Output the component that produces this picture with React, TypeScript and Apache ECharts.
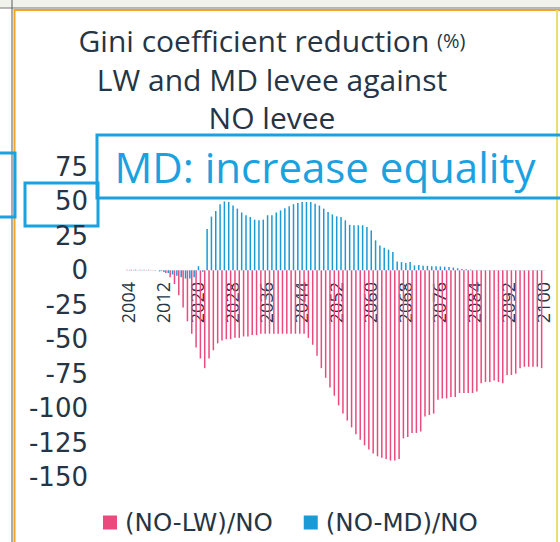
import React, { useEffect, useRef } from "react";
import * as echarts from "echarts";

const years: string[] = Array.from({ length: 97 }, (_, i) => String(2004 + i));

// (NO-LW)/NO, 2004..2100
const lwReduction: number[] = [
  0.5, 0.5, 0.5, 0.5, 0.4, 0.4, 0.3, 0, -0.5, -2,
  -5, -10, -18, -27, -37, -46, -56, -64, -71, -64,
  -58, -53, -51, -50, -50, -49, -49, -48, -48, -47,
  -47, -46, -46, -46, -46, -46, -46, -46, -46, -46,
  -46, -46, -49, -54, -62, -71, -78, -85, -91, -98,
  -104, -109, -114, -119, -123, -127, -130, -133, -135, -136,
  -137, -138, -138, -137, -122, -121, -118, -118, -117, -106,
  -105, -104, -94, -93, -93, -92, -92, -89, -89, -89,
  -89, -88, -82, -81, -81, -80, -81, -82, -76, -76,
  -75, -71, -70, -70, -70, -70, -71,
];

// (NO-MD)/NO, 2004..2100
const mdReduction: number[] = [
  0.3, 0.3, 0.3, 0.3, 0.3, 0.2, -0.3, -0.8, -1.2, -2,
  -3, -4, -5, -6, -6, -5, 3, -1, 30, 39,
  43, 48, 50, 49.6, 47, 44.8, 42, 40, 38.7, 36.8,
  36.3, 36.8, 40, 40, 42, 43.5, 45, 46.5, 48, 48.8,
  49.6, 49.6, 49.6, 48.4, 47, 44.8, 42.3, 40.6, 39.2, 38.7,
  36.3, 33, 32.7, 32.7, 32.7, 31.4, 29, 21.8, 18, 16.4,
  15, 13.3, 6.5, 6, 5.3, 6, 3.6, 3.8, 3.4, 3.2,
  3, 3, 2.8, 2.6, 2.4, 2, 1.5, 1, 0.7, 0.5,
  0.3, 0.2, 0.2, 0.2, 0.2, 0.2, 0.2, 0.2, 0.2, 0.2,
  0.2, 0.2, 0.2, 0.2, 0.2, 0.2, 0.2,
];

const seriesNames = ["(NO-LW)/NO", "(NO-MD)/NO"];
const titleLines = ["Gini coefficient reduction ", "(%)", "LW and MD levee against", "NO levee"];
const annotation = "MD: increase equality";

const FONT = "'Open Sans', sans-serif";
const WIDE = "'DejaVu Sans', sans-serif";
const DARK = "#263545";
const BLUE = "#1aa2e0";

export default function App() {
  const ref = useRef<HTMLDivElement>(null);
  useEffect(() => {
    if (!ref.current) return;
    const chart = echarts.init(ref.current, null, { renderer: "svg" });
    chart.setOption({
      animation: false,
      backgroundColor: "#ffffff",
      grid: { left: 126, right: 15, top: 167, height: 310 },
      legend: {
        left: 98,
        top: 505,
        itemWidth: 14,
        itemHeight: 14,
        itemGap: 31,
        icon: "rect",
        textStyle: { fontSize: 24.5, color: DARK, fontFamily: WIDE, padding: [0, 0, 0, 3] },
        data: seriesNames,
      },
      xAxis: {
        type: "category",
        data: years,
        axisLine: { show: false, onZero: false },
        axisTick: { show: false },
        axisLabel: {
          interval: 7,
          rotate: 90,
          fontSize: 18,
          color: DARK,
          fontFamily: FONT,
          margin: -195,
        },
      },
      yAxis: {
        type: "value",
        min: -150,
        max: 75,
        interval: 25,
        splitLine: { show: false },
        axisLine: { show: false },
        axisTick: { show: false },
        axisLabel: { fontSize: 26, color: DARK, fontFamily: WIDE, margin: 38, padding: [6, 0, 0, 0] },
      },
      series: [
        {
          type: "bar",
          name: seriesNames[0],
          data: lwReduction,
          barWidth: 1.5,
          barGap: "60%",
          itemStyle: { color: "#ea4a7e" },
        },
        {
          type: "bar",
          name: seriesNames[1],
          data: mdReduction,
          barWidth: 1.5,
          itemStyle: { color: "#1b9ad6" },
        },
      ],
      graphic: [
        { type: "rect", shape: { x: 0, y: 0, width: 560, height: 8 }, style: { fill: "#f2f2ec" }, silent: true },
        { type: "line", shape: { x1: 0, y1: 8, x2: 560, y2: 8 }, style: { stroke: "#777", lineWidth: 1 }, silent: true },
        { type: "line", shape: { x1: 14, y1: 10, x2: 560, y2: 10 }, style: { stroke: "#f0a526", lineWidth: 2 }, silent: true },
        { type: "line", shape: { x1: 12, y1: 0, x2: 12, y2: 542 }, style: { stroke: "#5a5a5a", lineWidth: 1 }, silent: true },
        { type: "line", shape: { x1: 14.5, y1: 9, x2: 14.5, y2: 542 }, style: { stroke: "#f0a526", lineWidth: 2 }, silent: true },
        { type: "line", shape: { x1: 557, y1: 10, x2: 557, y2: 542 }, style: { stroke: "#e7e070", lineWidth: 2 }, silent: true },
        {
          type: "text",
          x: 272,
          y: 40,
          style: {
            text: `{a|${titleLines[0]}}{b|${titleLines[1]}}`,
            align: "center",
            verticalAlign: "middle",
            rich: {
              a: { fontSize: 30, fontFamily: FONT, fill: DARK, color: DARK },
              b: { fontSize: 20, fontFamily: FONT, fill: DARK, color: DARK },
            },
          },
        },
        {
          type: "text",
          x: 272,
          y: 79,
          style: { text: titleLines[2], fontSize: 30, fontFamily: FONT, fill: DARK, align: "center", verticalAlign: "middle" },
        },
        {
          type: "text",
          x: 272,
          y: 117,
          style: { text: titleLines[3], fontSize: 30, fontFamily: FONT, fill: DARK, align: "center", verticalAlign: "middle" },
        },
        { type: "rect", shape: { x: 97, y: 135, width: 480, height: 63 }, style: { fill: "none", stroke: BLUE, lineWidth: 3 } },
        { type: "rect", shape: { x: 25, y: 183, width: 73, height: 43 }, style: { fill: "none", stroke: BLUE, lineWidth: 3 } },
        { type: "rect", shape: { x: -10, y: 153, width: 25, height: 64 }, style: { fill: "none", stroke: BLUE, lineWidth: 3 } },
        {
          type: "text",
          x: 325,
          y: 166,
          style: { text: annotation, fontSize: 42, fontFamily: FONT, fill: "#1ba1df", align: "center", verticalAlign: "middle" },
        },
      ],
    });
    return () => chart.dispose();
  }, []);
  return <div ref={ref} style={{ width: 560, height: 542, position: "absolute", left: 0, top: 0 }} />;
}
